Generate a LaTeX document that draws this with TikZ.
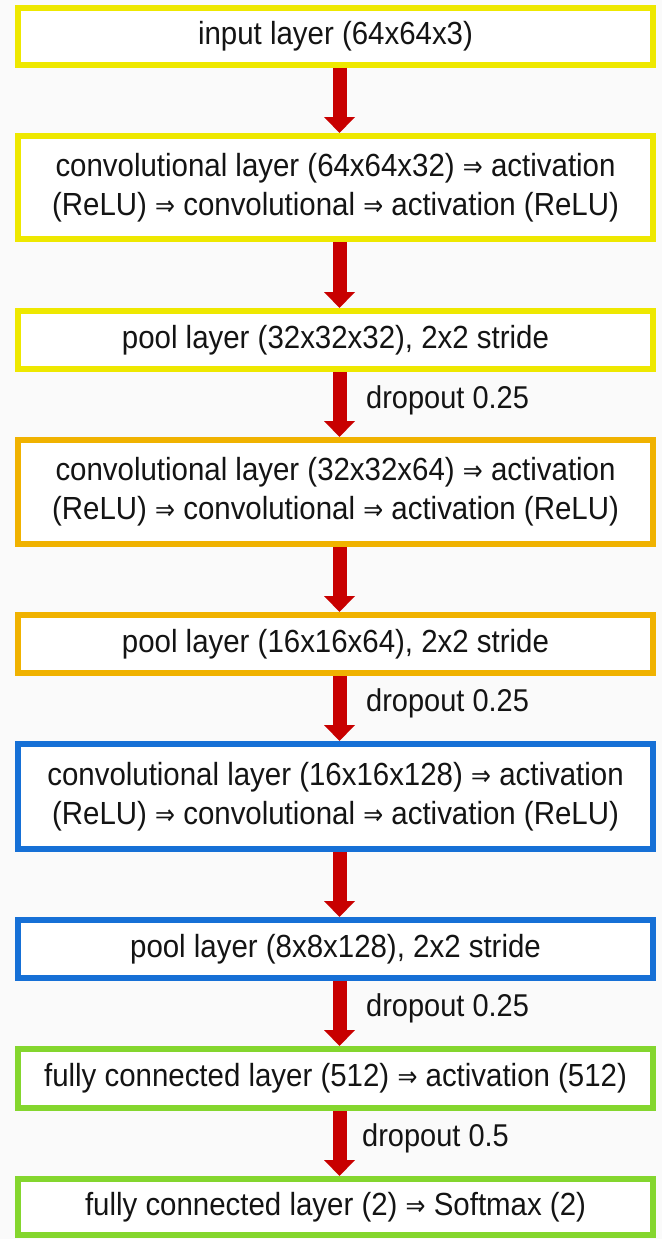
\documentclass[tikz,border=0pt]{standalone}
\usepackage{fontspec}
\setmainfont{Liberation Sans}[FakeStretch=0.92]
\newfontfamily\arrfont{DejaVu Sans}[FakeStretch=0.85]
\usetikzlibrary{arrows.meta,calc}
\definecolor{cyel}{RGB}{238,232,0}
\definecolor{corg}{RGB}{240,178,0}
\definecolor{cblu}{RGB}{22,112,214}
\definecolor{cgrn}{RGB}{132,214,46}
\definecolor{cred}{RGB}{200,0,0}
\definecolor{cbg}{RGB}{250,250,250}
\definecolor{ctxt}{RGB}{20,20,20}
\newcommand{\imp}{{\arrfont\fontsize{28}{28}\selectfont ⇒}}
\tikzset{
  layerbox/.style={draw=#1, line width=6pt, fill=white, minimum width=635pt,
    align=center, inner sep=0pt, text=ctxt,
    font=\fontsize{32}{39}\selectfont},
  flowarrow/.style={draw=cred, line width=14pt,
    -{Triangle[width=30pt,length=16pt]}},
  droplabel/.style={anchor=west, text=ctxt, inner sep=0pt,
    font=\fontsize{31.5}{39}\selectfont}
}
\begin{document}
\begin{tikzpicture}[x=1pt,y=-1pt]
\fill[cbg] (0,0) rectangle (662,1239);
\useasboundingbox (0,0) rectangle (662,1239);

\node[layerbox=cyel, minimum height=57pt] (b1) at (335.5,36.5) {input layer (64x64x3)};
\node[layerbox=cyel, minimum height=103pt] (b2) at (335.5,187.5)
  {convolutional layer (64x64x32) \imp{} activation\\(ReLU) \imp{} convolutional \imp{} activation (ReLU)};
\node[layerbox=cyel, minimum height=58pt] (b3) at (335.5,340) {pool layer (32x32x32), 2x2 stride};
\node[layerbox=corg, minimum height=104pt] (b4) at (335.5,492)
  {convolutional layer (32x32x64) \imp{} activation\\(ReLU) \imp{} convolutional \imp{} activation (ReLU)};
\node[layerbox=corg, minimum height=58pt] (b5) at (335.5,644) {pool layer (16x16x64), 2x2 stride};
\node[layerbox=cblu, minimum height=105pt] (b6) at (335.5,796.5)
  {convolutional layer (16x16x128) \imp{} activation\\(ReLU) \imp{} convolutional \imp{} activation (ReLU)};
\node[layerbox=cblu, minimum height=58pt] (b7) at (335.5,949) {pool layer (8x8x128), 2x2 stride};
\node[layerbox=cgrn, minimum height=59pt] (b8) at (335.5,1078.5) {fully connected layer (512) \imp{} activation (512)};
\node[layerbox=cgrn, minimum height=56pt] (b9) at (335.5,1207) {fully connected layer (2) \imp{} Softmax (2)};

\foreach \a/\b in {b1/b2,b2/b3,b3/b4,b4/b5,b5/b6,b6/b7,b7/b8,b8/b9}
  \draw[flowarrow] ([xshift=4pt]\a.south) -- ([xshift=4pt]\b.north);

\node[droplabel] (d1) at (366,400) {dropout 0.25};
\node[droplabel] (d2) at (366,703) {dropout 0.25};
\node[droplabel] (d3) at (366,1008) {dropout 0.25};
\node[droplabel] (d4) at (362,1138) {dropout 0.5};
\end{tikzpicture}
\end{document}
